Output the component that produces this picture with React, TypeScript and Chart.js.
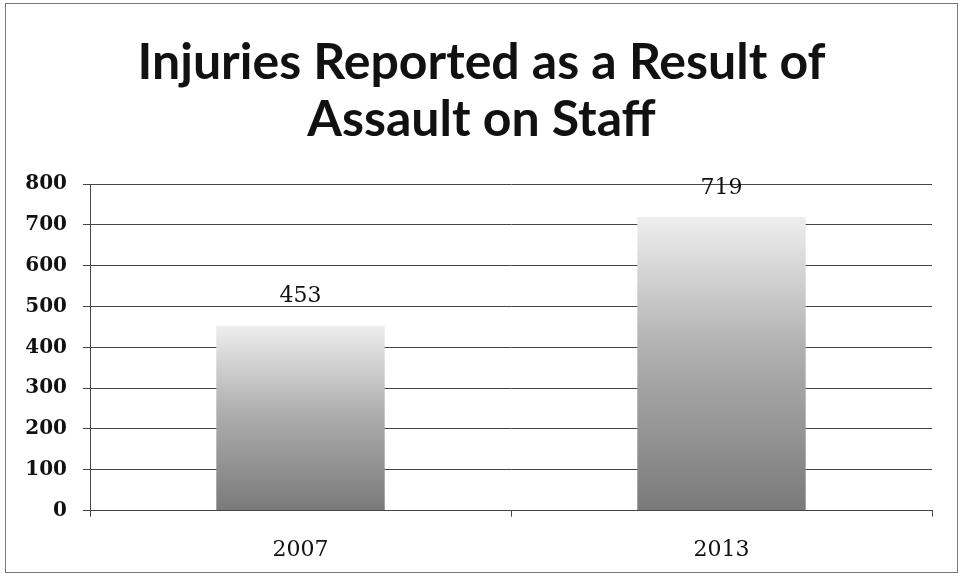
import React, { useEffect, useRef } from "react";
import { Chart, registerables } from "chart.js";

Chart.register(...registerables);

const titleLines = ["Injuries Reported as a Result of", "Assault on Staff"];
const categories = ["2007", "2013"];
const injuries = [453, 719];
const yMin = 0;
const yMax = 800;
const yStep = 100;

const framePlugin = {
  id: "frame",
  afterDraw(chart: any) {
    const { ctx } = chart;
    ctx.save();
    ctx.strokeStyle = "#7a7a7a";
    ctx.lineWidth = 1;
    ctx.strokeRect(5.5, 3.5, 952, 569);
    ctx.restore();
  },
};

const labelPlugin = {
  id: "valueLabels",
  afterDatasetsDraw(chart: any) {
    const { ctx } = chart;
    const meta = chart.getDatasetMeta(0);
    ctx.save();
    ctx.font = "22px 'DejaVu Serif'";
    ctx.fillStyle = "#111";
    ctx.textAlign = "center";
    ctx.textBaseline = "middle";
    meta.data.forEach((bar: any, i: number) => {
      ctx.fillText(String(injuries[i]), bar.x, bar.y - 29);
    });
    ctx.restore();
  },
};

export default function App() {
  const ref = useRef<HTMLCanvasElement>(null);
  useEffect(() => {
    document.body.style.margin = "0";
    const chart = new Chart(ref.current!, {
      type: "bar",
      data: {
        labels: categories,
        datasets: [
          {
            data: injuries,
            yAxisID: "y",
            barPercentage: 0.4,
            categoryPercentage: 1,
            backgroundColor: (c: any) => {
              const ch = c.chart;
              const y = ch.scales && ch.scales.y;
              if (!ch.chartArea || !y || c.raw === undefined) return "#999";
              const top = y.getPixelForValue(c.raw);
              const bottom = y.getPixelForValue(0);
              const g = ch.ctx.createLinearGradient(0, top, 0, bottom);
              g.addColorStop(0, "#eeeeee");
              g.addColorStop(0.45, "#b0b0b0");
              g.addColorStop(1, "#7a7a7a");
              return g;
            },
          },
        ],
      },
      options: {
        responsive: false,
        animation: false,
        layout: { padding: { left: 21, right: 21, top: 10, bottom: -6 } },
        plugins: {
          legend: { display: false },
          tooltip: { enabled: false },
          title: {
            display: true,
            text: titleLines,
            color: "#111",
            font: { family: "Lato", size: 50, weight: "bold", lineHeight: 1.14 },
            padding: { top: 24, bottom: 36 },
          },
        },
        scales: {
          x: {
            grid: {
              display: true,
              drawOnChartArea: false,
              drawTicks: true,
              tickLength: 6,
              color: "#444",
              offset: true,
            },
            border: { display: true, color: "#444" },
            ticks: {
              color: "#111",
              font: { family: "DejaVu Serif", size: 22 },
              padding: 20,
            },
          },
          y: {
            position: "left",
            min: yMin,
            max: yMax,
            afterFit: (axis: any) => {
              axis.width = 69;
            },
            grid: { color: "#444", tickLength: 7 },
            border: { display: true, color: "#444" },
            ticks: {
              stepSize: yStep,
              color: "#111",
              font: { family: "DejaVu Serif", size: 20, weight: "bold" },
              padding: 16,
            },
          },
          spacer: {
            type: "linear",
            position: "right",
            display: true,
            min: yMin,
            max: yMax,
            afterFit: (axis: any) => {
              axis.width = 10;
            },
            grid: { display: false, drawTicks: false },
            border: { display: false },
            ticks: { display: false },
          },
        },
      },
      plugins: [framePlugin, labelPlugin],
    });
    return () => chart.destroy();
  }, []);
  return <canvas ref={ref} width={963} height={577} style={{ display: "block" }} />;
}
